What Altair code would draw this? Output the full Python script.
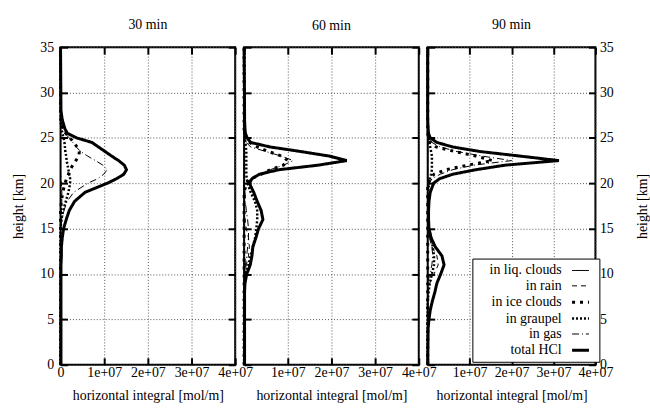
import altair as alt
import pandas as pd

# Height grid of the vertical profiles [km]
HEIGHT_KM = [0, 4, 5, 6, 7, 8, 9, 10, 11, 12, 13, 14, 15, 16, 17, 18, 19,
             20, 20.5, 21, 21.5, 22, 22.5, 23, 23.5, 24, 24.5, 25, 25.5, 26, 27, 28, 35]

# Horizontally integrated HCl, in units of 1e7 mol/m
UNIT = 1e7

LIQ_30 = [0.0] * 33
RAIN_30 = [0, 0, 0, 0, 0, 0, 0, 0, 0, 0, 0, 0, 0, 0.01, 0.02, 0.03, 0.03,
           0.02, 0.01, 0, 0, 0, 0, 0, 0, 0, 0, 0, 0, 0, 0, 0, 0]
ICE_30 = [0, 0, 0, 0, 0, 0, 0, 0, 0, 0, 0, 0, 0, 0, 0, 0.02, 0.05,
          0.10, 0.14, 0.18, 0.22, 0.28, 0.35, 0.42, 0.43, 0.38, 0.30, 0.22, 0.12, 0.05, 0.01, 0, 0]
GRAUPEL_30 = [0, 0, 0, 0, 0, 0, 0, 0, 0, 0, 0, 0, 0, 0.02, 0.06, 0.12, 0.18,
              0.22, 0.22, 0.20, 0.18, 0.16, 0.14, 0.13, 0.11, 0.10, 0.09, 0.07, 0.04, 0.02, 0, 0, 0]
GAS_30 = [0, 0, 0, 0, 0, 0, 0, 0, 0, 0, 0, 0, 0, 0.03, 0.08, 0.15, 0.30,
          0.62, 0.85, 0.99, 1.07, 0.97, 0.80, 0.62, 0.46, 0.36, 0.28, 0.20, 0.10, 0.05, 0.01, 0, 0]
TOTAL_30 = [0.01, 0.01, 0.01, 0.01, 0.01, 0.01, 0.01, 0.01, 0.01, 0.02, 0.02, 0.04, 0.07, 0.13, 0.20, 0.32, 0.56,
            1.07, 1.28, 1.45, 1.51, 1.46, 1.33, 1.17, 1.02, 0.87, 0.72, 0.37, 0.16, 0.10, 0.04, 0.01, 0]

LIQ_60 = [0.0] * 33
RAIN_60 = [0, 0, 0, 0, 0, 0, 0, 0.02, 0.05, 0.10, 0.12, 0.10, 0.05, 0.02, 0, 0, 0,
           0, 0, 0, 0, 0, 0, 0, 0, 0, 0, 0, 0, 0, 0, 0, 0]
ICE_60 = [0, 0, 0, 0, 0, 0, 0, 0, 0, 0, 0, 0, 0, 0, 0, 0, 0,
          0.05, 0.15, 0.40, 0.60, 0.90, 1.00, 0.86, 0.56, 0.30, 0.12, 0.04, 0.01, 0, 0, 0, 0]
GRAUPEL_60 = [0, 0, 0, 0, 0, 0, 0.01, 0.03, 0.10, 0.15, 0.20, 0.25, 0.28, 0.30, 0.30, 0.25, 0.15,
              0.08, 0.06, 0.05, 0.05, 0.05, 0.05, 0.05, 0.05, 0.04, 0.03, 0.02, 0.01, 0, 0, 0, 0]
GAS_60 = [0, 0, 0, 0, 0, 0, 0, 0, 0.03, 0.06, 0.08, 0.10, 0.10, 0.08, 0.05, 0.03, 0.02,
          0.07, 0.15, 0.35, 0.60, 0.90, 1.12, 0.85, 0.50, 0.15, 0.05, 0.02, 0, 0, 0, 0, 0]
TOTAL_60 = [0.01, 0.01, 0.01, 0.01, 0.01, 0.01, 0.02, 0.06, 0.14, 0.18, 0.20, 0.27, 0.33, 0.43, 0.39, 0.30, 0.22,
            0.12, 0.18, 0.35, 0.80, 1.70, 2.35, 1.95, 1.30, 0.60, 0.15, 0.07, 0.03, 0.02, 0.01, 0.01, 0]

LIQ_90 = [0.0] * 33
RAIN_90 = [0, 0, 0, 0, 0, 0.01, 0.05, 0.15, 0.25, 0.22, 0.10, 0.04, 0.01, 0, 0, 0, 0,
           0, 0, 0, 0, 0, 0, 0, 0, 0, 0, 0, 0, 0, 0, 0, 0]
ICE_90 = [0, 0, 0, 0, 0, 0, 0, 0, 0, 0, 0, 0, 0, 0, 0, 0, 0,
          0, 0.05, 0.15, 0.43, 0.95, 1.55, 1.15, 0.65, 0.20, 0.06, 0.02, 0, 0, 0, 0, 0]
GRAUPEL_90 = [0, 0, 0, 0, 0, 0.02, 0.05, 0.10, 0.15, 0.15, 0.12, 0.08, 0.03, 0.01, 0.01, 0.01, 0.01,
              0.03, 0.05, 0.08, 0.10, 0.10, 0.10, 0.10, 0.08, 0.06, 0.04, 0.02, 0, 0, 0, 0, 0]
GAS_90 = [0, 0, 0, 0, 0, 0, 0, 0.05, 0.10, 0.12, 0.10, 0.05, 0.02, 0, 0, 0, 0,
          0.04, 0.10, 0.30, 0.60, 1.10, 2.00, 1.30, 0.70, 0.30, 0.10, 0.03, 0, 0, 0, 0, 0]
TOTAL_90 = [0, 0.01, 0.03, 0.06, 0.11, 0.17, 0.22, 0.31, 0.39, 0.34, 0.18, 0.08, 0.03, 0.02, 0.02, 0.03, 0.06,
            0.14, 0.28, 0.60, 1.15, 1.85, 3.13, 2.20, 1.25, 0.60, 0.22, 0.06, 0.02, 0.01, 0, 0, 0]

PANELS = ["30 min", "60 min", "90 min"]
SERIES = ["in liq. clouds", "in rain", "in ice clouds", "in graupel", "in gas", "total HCl"]
PROFILES = {
    "30 min": [LIQ_30, RAIN_30, ICE_30, GRAUPEL_30, GAS_30, TOTAL_30],
    "60 min": [LIQ_60, RAIN_60, ICE_60, GRAUPEL_60, GAS_60, TOTAL_60],
    "90 min": [LIQ_90, RAIN_90, ICE_90, GRAUPEL_90, GAS_90, TOTAL_90],
}

X_TICKS = [0, 1e7, 2e7, 3e7, 4e7]
Y_TICKS = [0, 5, 10, 15, 20, 25, 30, 35]

rows = []
for p in PANELS:
    for name, vals in zip(SERIES, PROFILES[p]):
        for h, v in zip(HEIGHT_KM, vals):
            rows.append({"panel": p, "series": name, "height": h, "value": v * UNIT})
df = pd.DataFrame(rows)

FONT = "'Liberation Serif', 'Times New Roman', 'DejaVu Serif', serif"
PLOT_H = 320
WIDTHS = [176, 176, 169]
INWARD = {"expr": "-7"}

dash_scale = alt.Scale(type="ordinal", domain=SERIES,
                       range=[[1, 0], [5, 4], [3, 5], [2, 2], [7, 3, 1, 3], [1, 0]])
width_scale = alt.Scale(type="ordinal", domain=SERIES, range=[1, 1, 3, 2.5, 1, 3])

# Legend entry symbol: a short visible line sample at the right end, plus an
# invisible anchor point at the left edge so every entry row spans the same
# width; the right-aligned label then sits in front of the sample.
SAMPLE_PATH = "M-14.6,0M-1.27,0L1,0"
SAMPLE_SIZE = 225


def make_legend():
    return alt.Legend(
        title=None, orient="none", legendX=45, legendY=213,
        symbolType=SAMPLE_PATH, symbolSize=SAMPLE_SIZE, symbolStrokeColor="black",
        symbolOffset=97, rowPadding=0.5, labelAlign="right", labelOffset={"expr": "-29"},
        labelFont=FONT, labelFontSize=14, labelColor="black",
        fillColor="white", strokeColor="black", padding=4,
    )


def panel(i):
    name = PANELS[i]
    w = WIDTHS[i]
    base = alt.Chart(df[df.panel == name])
    xs = alt.Scale(domain=[0, 4e7], nice=False, zero=False)
    ys = alt.Scale(domain=[0, 35], nice=False, zero=False)

    zero_txt = "'0'" if i == 0 else "''"
    x_axis = alt.Axis(
        values=X_TICKS, title="horizontal integral [mol/m]",
        labelExpr=f"datum.value == 0 ? {zero_txt} : format(datum.value / 1e7, 'd') + 'e+07'",
        grid=True, ticks=True, tickSize=INWARD, domain=False, labelPadding=8, titlePadding=9,
        labelFlush=False, labelOverlap=False,
    )
    common_y = dict(values=Y_TICKS, grid=True, ticks=True, tickSize=INWARD, domain=False)
    if i == 0:
        y_axis = alt.Axis(orient="left", title="height [km]", labelPadding=14, titlePadding=14,
                          **common_y)
    elif i == 1:
        y_axis = alt.Axis(orient="left", labels=False, title=None, **common_y)
    else:
        y_axis = alt.Axis(orient="right", title="height [km]", labelPadding=11, titlePadding=22,
                          titleAngle=270, titleBaseline="top", **common_y)

    leg = make_legend() if i == 2 else None
    lines = base.mark_line(color="black", strokeJoin="miter").encode(
        x=alt.X("value:Q", scale=xs, axis=x_axis),
        y=alt.Y("height:Q", scale=ys, axis=y_axis),
        order="height:Q",
        strokeDash=alt.StrokeDash("series:N", scale=dash_scale, legend=leg),
        strokeWidth=alt.StrokeWidth("series:N", scale=width_scale, legend=leg),
    )

    # inward tick marks along the top edge and the unlabelled side edge
    top_axis = alt.Axis(orient="top", values=X_TICKS, labels=False, title=None, grid=False,
                        domain=False, ticks=True, tickSize=INWARD)
    side_axis = alt.Axis(orient="right" if i < 2 else "left", values=Y_TICKS, labels=False,
                         title=None, grid=False, domain=False, ticks=True, tickSize=INWARD)
    frame_ticks = base.mark_line(opacity=0).encode(
        x=alt.X("value:Q", scale=xs, axis=top_axis),
        y=alt.Y("height:Q", scale=ys, axis=side_axis),
        detail="series:N", order="height:Q",
    )
    return alt.layer(lines, frame_ticks).resolve_axis(
        x="independent", y="independent"
    ).properties(
        width=w, height=PLOT_H,
        title=alt.TitleParams(name, font=FONT, fontSize=14, fontWeight="normal",
                              color="black", offset=8),
    )


chart = alt.hconcat(panel(0), panel(1), panel(2), spacing=9, bounds="flush").resolve_scale(
    x="independent", y="independent", strokeDash="independent", strokeWidth="independent"
).resolve_legend(
    strokeDash="independent", strokeWidth="independent"
).properties(
    padding={"left": 11, "top": 16, "right": 0, "bottom": 0},
    background="white",
).configure_view(
    stroke="black", strokeWidth=2
).configure_axis(
    labelFont=FONT, labelFontSize=14, labelColor="black",
    titleFont=FONT, titleFontSize=14, titleFontWeight="normal", titleColor="black",
    gridColor="#555", gridDash=[1, 2], gridWidth=1,
    tickColor="black", tickWidth=2,
)

chart.save("out.html", embed_options={"renderer": "svg", "actions": False})
